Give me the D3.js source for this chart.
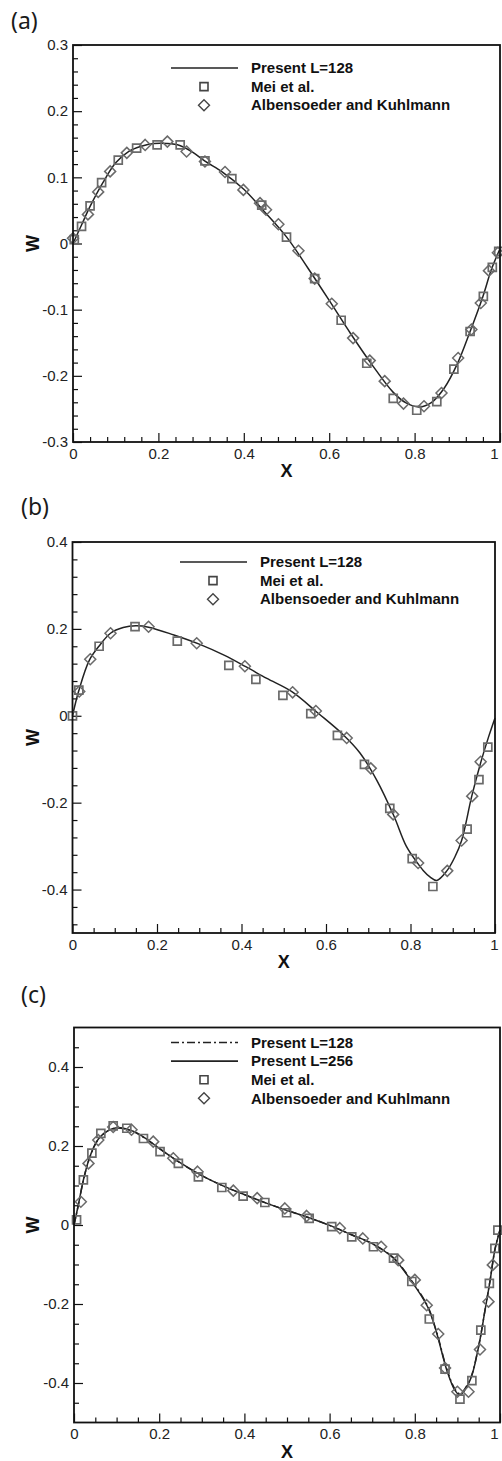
<!DOCTYPE html>
<html>
<head>
    <script src="https://d3js.org/d3.v7.min.js"></script>
    <style>
        body { margin: 0; background: #fff; }
        svg text { font-family: "Liberation Sans", Arial, sans-serif; }
    </style>
</head>
<body>
    <svg id="chart"></svg>

    <script>
        // ---- panel (a) ----
        var aLineX = [0, 0.02, 0.04, 0.07, 0.1, 0.13, 0.16, 0.19, 0.22, 0.25, 0.28, 0.31, 0.35, 0.4, 0.45, 0.5, 0.55, 0.6, 0.65, 0.7, 0.75, 0.78, 0.81, 0.84, 0.87, 0.9, 0.93, 0.96, 0.98, 1];
        var aLineW = [0, 0.028, 0.056, 0.092, 0.122, 0.139, 0.147, 0.151, 0.151, 0.148, 0.138, 0.124, 0.108, 0.082, 0.047, 0.01, -0.037, -0.086, -0.136, -0.183, -0.225, -0.241, -0.247, -0.24, -0.218, -0.182, -0.133, -0.08, -0.039, -0.008];
        var aMeiX = [0.003, 0.02, 0.04, 0.067, 0.106, 0.149, 0.197, 0.251, 0.309, 0.372, 0.442, 0.5, 0.566, 0.628, 0.688, 0.75, 0.805, 0.852, 0.892, 0.93, 0.961, 0.982, 0.997];
        var aMeiW = [0.006, 0.026, 0.057, 0.092, 0.126, 0.144, 0.149, 0.149, 0.125, 0.098, 0.058, 0.0095, -0.053, -0.116, -0.181, -0.234, -0.252, -0.239, -0.19, -0.133, -0.08, -0.036, -0.012];
        var aAkX = [0, 0.035, 0.059, 0.087, 0.126, 0.169, 0.221, 0.266, 0.309, 0.356, 0.399, 0.438, 0.452, 0.481, 0.528, 0.566, 0.606, 0.656, 0.695, 0.73, 0.774, 0.822, 0.863, 0.902, 0.933, 0.955, 0.974, 0.995];
        var aAkW = [0.008, 0.044, 0.078, 0.109, 0.137, 0.149, 0.154, 0.139, 0.124, 0.108, 0.081, 0.061, 0.051, 0.029, -0.011, -0.053, -0.091, -0.143, -0.177, -0.208, -0.242, -0.246, -0.226, -0.173, -0.13, -0.09, -0.041, -0.014];

        // ---- panel (b) ----
        var bLineX = [0, 0.015, 0.04, 0.065, 0.09, 0.12, 0.15, 0.18, 0.24, 0.3, 0.36, 0.41, 0.46, 0.52, 0.58, 0.64, 0.68, 0.72, 0.76, 0.79, 0.815, 0.83, 0.846, 0.862, 0.886, 0.905, 0.921, 0.945, 0.967, 0.985, 1];
        var bLineW = [0, 0.058, 0.128, 0.163, 0.19, 0.203, 0.207, 0.204, 0.186, 0.165, 0.139, 0.113, 0.086, 0.055, 0.007, -0.043, -0.085, -0.148, -0.229, -0.3, -0.337, -0.356, -0.371, -0.379, -0.357, -0.325, -0.287, -0.185, -0.105, -0.048, -0.005];
        var bMeiX = [0, 0.015, 0.063, 0.148, 0.248, 0.37, 0.434, 0.498, 0.564, 0.627, 0.691, 0.751, 0.804, 0.853, 0.934, 0.962, 0.983];
        var bMeiW = [0, 0.059, 0.16, 0.205, 0.172, 0.116, 0.084, 0.047, 0.005, -0.045, -0.112, -0.213, -0.329, -0.393, -0.261, -0.147, -0.072];
        var bAkX = [0.016, 0.042, 0.09, 0.18, 0.294, 0.408, 0.521, 0.576, 0.649, 0.706, 0.759, 0.818, 0.887, 0.921, 0.946, 0.966];
        var bAkW = [0.056, 0.13, 0.19, 0.205, 0.167, 0.114, 0.054, 0.011, -0.051, -0.121, -0.227, -0.339, -0.357, -0.287, -0.185, -0.106];

        // ---- panel (c) ----
        var cLineX = [0, 0.01, 0.022, 0.036, 0.053, 0.07, 0.09, 0.11, 0.14, 0.17, 0.2, 0.25, 0.3, 0.35, 0.4, 0.45, 0.5, 0.55, 0.6, 0.65, 0.7, 0.75, 0.79, 0.83, 0.851, 0.875, 0.894, 0.906, 0.93, 0.949, 0.965, 0.977, 0.988, 1];
        var c256W = [0, 0.05, 0.114, 0.169, 0.211, 0.232, 0.244, 0.246, 0.237, 0.218, 0.194, 0.157, 0.125, 0.099, 0.077, 0.056, 0.037, 0.019, -0.001, -0.024, -0.047, -0.084, -0.139, -0.207, -0.272, -0.367, -0.418, -0.43, -0.392, -0.312, -0.215, -0.139, -0.063, -0.013];
        var c128W = [0, 0.049, 0.113, 0.168, 0.21, 0.231, 0.243, 0.245, 0.236, 0.217, 0.194, 0.157, 0.125, 0.099, 0.077, 0.056, 0.037, 0.019, -0.001, -0.024, -0.047, -0.083, -0.137, -0.205, -0.27, -0.364, -0.415, -0.427, -0.39, -0.311, -0.214, -0.138, -0.062, -0.012];
        var cMeiX = [0.006, 0.022, 0.042, 0.063, 0.092, 0.124, 0.163, 0.202, 0.245, 0.292, 0.347, 0.397, 0.448, 0.499, 0.552, 0.605, 0.652, 0.703, 0.75, 0.793, 0.834, 0.871, 0.906, 0.934, 0.955, 0.975, 0.988, 0.995];
        var cMeiW = [0.013, 0.114, 0.182, 0.232, 0.251, 0.245, 0.219, 0.186, 0.156, 0.122, 0.095, 0.073, 0.057, 0.031, 0.017, -0.004, -0.03, -0.055, -0.084, -0.143, -0.238, -0.365, -0.441, -0.394, -0.266, -0.148, -0.059, -0.013];
        var cAkX = [0.016, 0.034, 0.057, 0.092, 0.135, 0.186, 0.233, 0.29, 0.374, 0.43, 0.495, 0.546, 0.624, 0.678, 0.721, 0.761, 0.8, 0.828, 0.855, 0.871, 0.9, 0.926, 0.953, 0.973, 0.983];
        var cAkW = [0.059, 0.156, 0.215, 0.248, 0.241, 0.211, 0.169, 0.135, 0.087, 0.068, 0.042, 0.023, -0.008, -0.034, -0.055, -0.089, -0.139, -0.203, -0.276, -0.362, -0.422, -0.422, -0.315, -0.194, -0.101];

        var panelLabels = ["(a)", "(b)", "(c)"];
        var legendA = ["Present L=128", "Mei et al.", "Albensoeder and Kuhlmann"];
        var legendC = ["Present L=128", "Present L=256", "Mei et al.", "Albensoeder and Kuhlmann"];
        var xTicks = [0, 0.2, 0.4, 0.6, 0.8, 1];
        var yTicksA = [-0.3, -0.2, -0.1, 0, 0.1, 0.2, 0.3];
        var yTicksBC = [-0.4, -0.2, 0, 0.2, 0.4];

        function pts(xs, ws) {
            return xs.map(function(v, i) { return { x: v, w: ws[i] }; });
        }
        function minorRange(lo, hi, step, majors) {
            var out = [];
            for (var i = 0; lo + i * step <= hi + 1e-9; i++) {
                var v = +(lo + i * step).toFixed(4);
                if (!majors.some(function(m) { return Math.abs(m - v) < 1e-6; })) out.push(v);
            }
            return out;
        }

        var panels = [
            { label: panelLabels[0], lx: 11, ly: 29, left: 73, right: 500, top: 45, bottom: 442,
              yDomain: [-0.3, 0.3], yTicks: yTicksA, yMinor: minorRange(-0.3, 0.3, 0.02, yTicksA),
              xMinor: minorRange(0, 1, 0.04, xTicks),
              lines: [{ data: pts(aLineX, aLineW), dash: null }],
              mei: pts(aMeiX, aMeiW), ak: pts(aAkX, aAkW),
              legend: { x: 171, y: 68, items: [["line", legendA[0]], ["square", legendA[1]], ["diamond", legendA[2]]] } },
            { label: panelLabels[1], lx: 21, ly: 515, left: 72.5, right: 495, top: 542, bottom: 933,
              yDomain: [-0.5, 0.4], yTicks: yTicksBC, yMinor: minorRange(-0.48, 0.4, 0.04, yTicksBC),
              xMinor: minorRange(0, 1, 0.05, xTicks),
              lines: [{ data: pts(bLineX, bLineW), dash: null }],
              mei: pts(bMeiX, bMeiW), ak: pts(bAkX, bAkW),
              legend: { x: 180, y: 562, items: [["line", legendA[0]], ["square", legendA[1]], ["diamond", legendA[2]]] } },
            { label: panelLabels[2], lx: 21, ly: 1003, left: 74, right: 500, top: 1027.5, bottom: 1422.5,
              yDomain: [-0.5, 0.5], yTicks: yTicksBC, yMinor: minorRange(-0.45, 0.45, 0.05, yTicksBC),
              xMinor: minorRange(0, 1, 0.05, xTicks),
              lines: [{ data: pts(cLineX, c128W), dash: "8,3,2,3" }, { data: pts(cLineX, c256W), dash: null }],
              mei: pts(cMeiX, cMeiW), ak: pts(cAkX, cAkW),
              legend: { x: 171, y: 1042.5, items: [["dashdot", legendC[0]], ["line", legendC[1]], ["square", legendC[2]], ["diamond", legendC[3]]] } }
        ];

        var svg = d3.select("#chart").attr("width", 502).attr("height", 1461);

        var fmt = function(d) { return String(Math.round(d * 10) / 10); };

        function squarePath(cx, cy, s) {
            return "M" + (cx - s) + "," + (cy - s) + "h" + (2 * s) + "v" + (2 * s) + "h" + (-2 * s) + "Z";
        }
        function diamondPath(cx, cy, s) {
            return "M" + cx + "," + (cy - s) + "l" + s + "," + s + "l" + (-s) + "," + s + "l" + (-s) + "," + (-s) + "Z";
        }

        panels.forEach(function(p) {
            var x = d3.scaleLinear().domain([0, 1]).range([p.left, p.right]);
            var y = d3.scaleLinear().domain(p.yDomain).range([p.bottom, p.top]);
            var g = svg.append("g");

            // panel letter
            g.append("text")
                .attr("x", p.lx).attr("y", p.ly)
                .style("font-family", "'Noto Sans', 'Open Sans', sans-serif")
                .style("font-size", "23px")
                .style("fill", "#1a1a1a")
                .text(p.label);

            // minor ticks (inward)
            g.append("g").attr("transform", "translate(0," + p.bottom + ")")
                .call(d3.axisBottom(x).tickValues(p.xMinor).tickSize(-5).tickFormat(""))
                .call(function(s) { s.select(".domain").remove(); });
            g.append("g").attr("transform", "translate(" + p.left + ",0)")
                .call(d3.axisLeft(y).tickValues(p.yMinor).tickSize(-5).tickFormat(""))
                .call(function(s) { s.select(".domain").remove(); });

            // major ticks with labels
            var xa = g.append("g").attr("transform", "translate(0," + p.bottom + ")")
                .call(d3.axisBottom(x).tickValues(xTicks).tickSize(-9).tickPadding(6).tickFormat(fmt));
            var ya = g.append("g").attr("transform", "translate(" + p.left + ",0)")
                .call(d3.axisLeft(y).tickValues(p.yTicks).tickSize(-9).tickPadding(5).tickFormat(fmt));
            [xa, ya].forEach(function(a) {
                a.select(".domain").remove();
                a.selectAll("text").style("font-size", "15px").style("fill", "#222")
                    .style("font-family", "'Liberation Sans', Arial, sans-serif");
            });
            // the last x label sits at the page edge, keep it inside
            xa.selectAll("text").filter(function(d) { return d === 1; })
                .attr("text-anchor", "end").attr("dx", (p.right > 498 ? -2 : 3));
            g.selectAll(".tick line").attr("stroke", "#111").attr("stroke-width", 1.2);

            // curves
            var line = d3.line()
                .x(function(d) { return x(d.x); })
                .y(function(d) { return y(d.w); })
                .curve(d3.curveCatmullRom);
            p.lines.forEach(function(l) {
                g.append("path")
                    .datum(l.data)
                    .attr("d", line)
                    .attr("fill", "none")
                    .attr("stroke", "#222")
                    .attr("stroke-width", 1.5)
                    .attr("stroke-dasharray", l.dash);
            });

            // reference data markers
            g.selectAll(".mei")
                .data(p.mei)
                .enter().append("path")
                .attr("d", function(d) { return squarePath(x(d.x), y(d.w), 4); })
                .attr("fill", "none").attr("stroke", "#6a6a6a").attr("stroke-width", 1.7);
            g.selectAll(".ak")
                .data(p.ak)
                .enter().append("path")
                .attr("d", function(d) { return diamondPath(x(d.x), y(d.w), 5.5); })
                .attr("fill", "none").attr("stroke", "#6a6a6a").attr("stroke-width", 1.5);

            // frame
            g.append("rect")
                .attr("x", p.left).attr("y", p.top)
                .attr("width", p.right - p.left).attr("height", p.bottom - p.top)
                .attr("fill", "none").attr("stroke", "#111").attr("stroke-width", 1.8);

            // axis titles
            g.append("text")
                .attr("transform", "translate(33," + ((p.top + p.bottom) / 2) + ") rotate(-90)")
                .attr("text-anchor", "middle").attr("dy", "0.36em")
                .style("font-size", "18px").style("font-weight", "bold").style("fill", "#111")
                .text("W");
            g.append("text")
                .attr("x", (p.left + p.right) / 2).attr("y", p.bottom + 35)
                .attr("text-anchor", "middle")
                .style("font-size", "18px").style("font-weight", "bold").style("fill", "#111")
                .text("X");

            // legend
            var lg = g.append("g").attr("transform", "translate(" + p.legend.x + "," + p.legend.y + ")");
            p.legend.items.forEach(function(it, i) {
                var cy = i * 18.6;
                if (it[0] === "line" || it[0] === "dashdot") {
                    lg.append("line").attr("x1", 0).attr("x2", 67).attr("y1", cy).attr("y2", cy)
                        .attr("stroke", "#222").attr("stroke-width", 1.6)
                        .attr("stroke-dasharray", it[0] === "dashdot" ? "8,3,2,3" : null);
                } else if (it[0] === "square") {
                    lg.append("path").attr("d", squarePath(33, cy, 4))
                        .attr("fill", "none").attr("stroke", "#444").attr("stroke-width", 1.6);
                } else {
                    lg.append("path").attr("d", diamondPath(33, cy, 5.5))
                        .attr("fill", "none").attr("stroke", "#444").attr("stroke-width", 1.4);
                }
                lg.append("text")
                    .attr("x", 80).attr("y", cy + 5.2)
                    .style("font-size", "15px").style("font-weight", "bold").style("fill", "#111")
                    .text(it[1]);
            });
        });
    </script>
</body>
</html>
